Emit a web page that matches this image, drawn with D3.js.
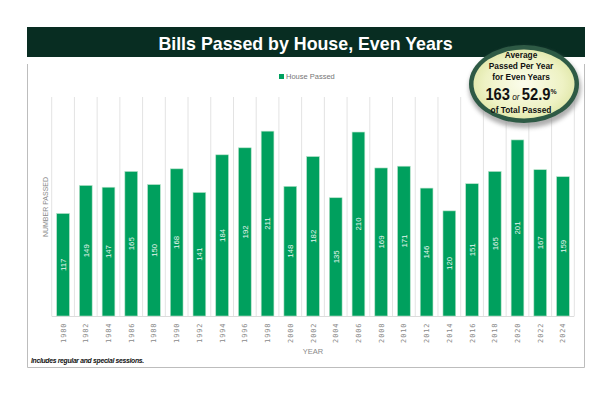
<!DOCTYPE html>
<html><head><meta charset="utf-8">
<script src="https://cdn.jsdelivr.net/npm/d3@7"></script>
<style>
html,body{margin:0;padding:0;background:#fff;}
svg{display:block;}
</style></head>
<body>
<script>
const years = ["1980","1982","1984","1986","1988","1990","1992","1994","1996","1998","2000","2002","2004","2006","2008","2010","2012","2014","2016","2018","2020","2022","2024"];
const housePassed = [117,149,147,165,150,168,141,184,192,211,148,182,135,210,169,171,146,120,151,165,201,167,159];
const titleText = "Bills Passed by House, Even Years";
const seriesName = "House Passed";
const yTitle = "NUMBER PASSED";
const xTitle = "YEAR";
const footnote = "Includes regular and special sessions.";
const badgeLines = ["Average","Passed Per Year","for Even Years"];
const badgeAvg = "163", badgePct = "52.9", badgeLast = "of Total Passed";
const yDomain = [0, 250];

(function(){
const W = 612, H = 396;
const svg = d3.select("body").append("svg").attr("width", W).attr("height", H);
const defs = svg.append("defs");

svg.append("path")
  .attr("d", "M27.5,64 V367.5 H584.5 V64")
  .attr("fill", "none").attr("stroke", "#bdbdbd").attr("stroke-width", 1);

svg.append("rect").attr("x", 27).attr("y", 27).attr("width", 558).attr("height", 30).attr("fill", "#082d22");
svg.append("text").attr("x", 305.5).attr("y", 49.5).attr("text-anchor", "middle")
  .attr("font-family", "Liberation Sans, Arial, sans-serif").attr("font-weight", "bold")
  .attr("font-size", 17.8).attr("fill", "#fff").text(titleText);

const pLeft = 51.7, pRight = 574.3, pTop = 97, pBottom = 316;
const x = d3.scaleBand().domain(years).range([pLeft, pRight]).paddingInner(0.44).paddingOuter(0.22);
const y = d3.scaleLinear().domain(yDomain).range([pBottom, pTop]);
const step = x.step();

const g = svg.append("g");
const bounds = years.map(d => x(d) - step * 0.22).concat([x(years[years.length - 1]) + x.bandwidth() + step * 0.22]);
g.selectAll("line.grid").data(bounds).enter().append("line")
  .attr("x1", d => d).attr("x2", d => d).attr("y1", pTop).attr("y2", pBottom)
  .attr("stroke", "#e3e3e3").attr("stroke-width", 1);
g.append("line").attr("x1", pLeft).attr("x2", pRight).attr("y1", pBottom + 0.5).attr("y2", pBottom + 0.5)
  .attr("stroke", "#dcdcdc").attr("stroke-width", 1);

g.selectAll("rect.bar").data(housePassed).enter().append("rect")
  .attr("x", (d, i) => x(years[i])).attr("y", d => y(d))
  .attr("width", x.bandwidth()).attr("height", d => pBottom - y(d))
  .attr("fill", "#00a05e").attr("stroke", "#b5e2c8").attr("stroke-width", 0.6);

g.selectAll("text.lbl").data(housePassed).enter().append("text")
  .attr("transform", (d, i) => `translate(${x(years[i]) + x.bandwidth() / 2 + 2.8},${(y(d) + pBottom) / 2}) rotate(-90)`)
  .attr("text-anchor", "middle")
  .attr("font-family", "Liberation Sans, Arial, sans-serif").attr("font-size", 7.8)
  .attr("fill", "#e9f6ef").text(d => d);

const xAxis = d3.axisBottom(x).tickSize(0).tickPadding(0);
const ax = svg.append("g").attr("transform", `translate(0,${pBottom})`).call(xAxis);
ax.select(".domain").remove();
ax.selectAll("text")
  .attr("transform", "translate(2.5,6.5) rotate(-90)")
  .attr("text-anchor", "end").attr("dy", 0).attr("y", 0).attr("x", 0)
  .attr("font-family", "DejaVu Sans Mono, monospace").attr("font-size", 7)
  .attr("letter-spacing", 0.9).attr("fill", "#8a8a8a");

svg.append("text").attr("x", 313).attr("y", 354).attr("text-anchor", "middle")
  .attr("font-family", "Liberation Sans, Arial, sans-serif").attr("font-size", 7.5)
  .attr("fill", "#8a8a8a").text(xTitle);
svg.append("text").attr("transform", "translate(48,207) rotate(-90)").attr("text-anchor", "middle")
  .attr("font-family", "Liberation Sans, Arial, sans-serif").attr("font-size", 7)
  .attr("fill", "#8a8a8a").text(yTitle);

svg.append("rect").attr("x", 279).attr("y", 74).attr("width", 5).attr("height", 5).attr("fill", "#00a05e");
svg.append("text").attr("x", 286).attr("y", 79).attr("font-family", "Liberation Sans, Arial, sans-serif")
  .attr("font-size", 7.5).attr("fill", "#777").text(seriesName);

svg.append("text").attr("x", 31).attr("y", 363)
  .attr("font-family", "Liberation Sans, Arial, sans-serif").attr("font-size", 6.8)
  .attr("font-weight", "bold").attr("font-style", "italic").attr("letter-spacing", -0.3)
  .attr("fill", "#111").text(footnote);

const rg = defs.append("radialGradient").attr("id", "bfill").attr("cx", "50%").attr("cy", "50%").attr("r", "55%");
rg.append("stop").attr("offset", "0%").attr("stop-color", "#fbfcec");
rg.append("stop").attr("offset", "70%").attr("stop-color", "#eef2c4");
rg.append("stop").attr("offset", "100%").attr("stop-color", "#dfe6a6");
const blur = defs.append("filter").attr("id", "sh").attr("x", "-20%").attr("y", "-20%").attr("width", "140%").attr("height", "150%");
blur.append("feGaussianBlur").attr("stdDeviation", 2);
const cx = 524, cy = 84;
svg.append("ellipse").attr("cx", cx + 1).attr("cy", cy + 4).attr("rx", 56).attr("ry", 40).attr("fill", "#8c8c8c").attr("opacity", 0.7).attr("filter", "url(#sh)");
svg.append("ellipse").attr("cx", cx).attr("cy", cy).attr("rx", 55).attr("ry", 39).attr("fill", "#2e5a45");
svg.append("ellipse").attr("cx", cx).attr("cy", cy).attr("rx", 50.5).attr("ry", 34.5).attr("fill", "url(#bfill)");
const bf = "Liberation Sans Narrow, Arial Narrow, Liberation Sans, sans-serif";
const bt = svg.append("g").attr("transform", `translate(${cx - 3},0) scale(0.85,1)`)
  .attr("font-family", bf).attr("font-weight", "bold").attr("fill", "#111").attr("text-anchor", "middle");
badgeLines.forEach((t, i) => {
  bt.append("text").attr("x", 0).attr("y", 58.5 + i * 11).attr("font-size", 9.8).text(t);
});
bt.append("text").attr("x", 0).attr("y", 113).attr("font-size", 9.8).text(badgeLast);
const bg2 = svg.append("g").attr("transform", `translate(${cx - 3},0) scale(0.92,1)`)
  .attr("font-family", bf).attr("font-weight", "bold").attr("fill", "#111").attr("text-anchor", "middle");
const big = bg2.append("text").attr("x", 0).attr("y", 100.5).attr("font-size", 16);
big.append("tspan").text(badgeAvg);
big.append("tspan").attr("font-size", 9).attr("font-style", "italic").attr("font-weight", "normal").text(" or ");
big.append("tspan").text(badgePct);
big.append("tspan").attr("font-size", 7.5).attr("dy", -6).text("%");
})();
</script>
</body></html>
